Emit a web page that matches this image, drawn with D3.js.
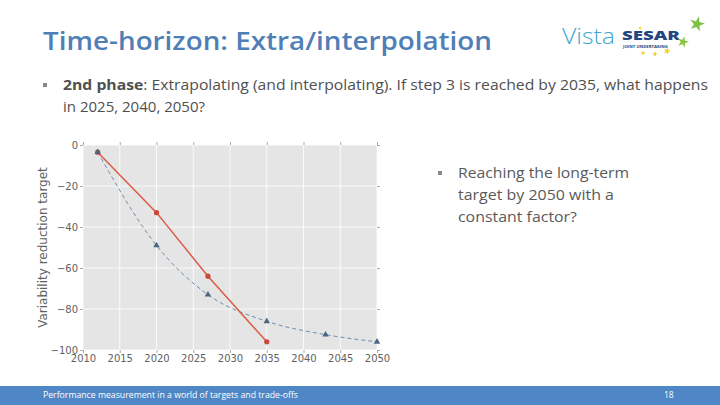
<!DOCTYPE html>
<html>
<head>
<meta charset="utf-8">
<script src="https://cdn.jsdelivr.net/npm/d3@7"></script>
<style>
  body { margin: 0; background: #fff; }
  svg { display: block; }
</style>
</head>
<body>
<div id="slide"></div>
<script>
// chart values
const xTicks = [2010, 2015, 2020, 2025, 2030, 2035, 2040, 2045, 2050];
const yTicks = [0, -20, -40, -60, -80, -100];
const linearYears = [2012, 2020, 2027, 2035];
const linearValues = [-3.5, -33, -64, -96];
const factorYears = [2012, 2020, 2027, 2035, 2043, 2050];
const factorValues = [-3.5, -49, -73, -86, -92.5, -96];

const width = 720;
const height = 405;

const svg = d3.select("#slide")
              .append("svg")
              .attr("width", width)
              .attr("height", height)
              .style("font-family", "'Open Sans', sans-serif");

// **Slide title
svg.append("text")
   .attr("x", 43)
   .attr("y", 50)
   .attr("font-size", 25)
   .attr("font-weight", 600)
   .attr("fill", "#4f7fb6")
   .attr("textLength", 449)
   .attr("lengthAdjust", "spacingAndGlyphs")
   .text("Time-horizon: Extra/interpolation");

// **Logo (rough)
svg.append("text")
   .attr("x", 562).attr("y", 44)
   .attr("font-size", 22)
   .attr("font-weight", 300)
   .attr("fill", "#3ea7cf")
   .attr("textLength", 53)
   .attr("lengthAdjust", "spacingAndGlyphs")
   .text("Vista");
svg.append("text")
   .attr("x", 622).attr("y", 40)
   .attr("font-size", 12.5)
   .attr("font-weight", 800)
   .attr("fill", "#24457f")
   .attr("textLength", 58)
   .attr("lengthAdjust", "spacingAndGlyphs")
   .text("SESAR");
svg.append("text")
   .attr("x", 623).attr("y", 48)
   .attr("font-size", 3.5)
   .attr("font-weight", 700)
   .attr("fill", "#24457f")
   .attr("textLength", 45)
   .attr("lengthAdjust", "spacingAndGlyphs")
   .text("JOINT UNDERTAKING");
const star = d3.symbol().type(d3.symbolStar);
[[697, 24, 70, "#7dc142"], [683, 42, 40, "#8cc63f"], [667, 51, 16, "#f2d21a"],
 [655, 54, 10, "#f2d21a"], [643, 53, 8, "#f2d21a"], [640, 28, 5, "#f2d21a"]]
  .forEach(s => {
    svg.append("path")
       .attr("d", star.size(s[2])())
       .attr("transform", `translate(${s[0]},${s[1]}) rotate(15)`)
       .attr("fill", s[3]);
  });

// **Bullet texts
const bulletColor = "#505050";
svg.append("rect").attr("x", 43).attr("y", 83).attr("width", 4).attr("height", 4).attr("fill", "#888");
const line1 = svg.append("text")
   .attr("x", 63).attr("y", 90)
   .attr("font-size", 15)
   .attr("fill", bulletColor)
   .attr("textLength", 645)
   .attr("lengthAdjust", "spacingAndGlyphs");
line1.append("tspan").attr("font-weight", 700).text("2nd phase");
line1.append("tspan").text(": Extrapolating (and interpolating). If step 3 is reached by 2035, what happens");
svg.append("text")
   .attr("x", 63).attr("y", 112)
   .attr("font-size", 15)
   .attr("fill", bulletColor)
   .attr("textLength", 142)
   .attr("lengthAdjust", "spacingAndGlyphs")
   .text("in 2025, 2040, 2050?");

svg.append("rect").attr("x", 438).attr("y", 171).attr("width", 4).attr("height", 4).attr("fill", "#888");
const sideLines = [["Reaching the long-term", 171], ["target by 2050 with a", 156], ["constant factor?", 119]];
sideLines.forEach((l, i) => {
  svg.append("text")
     .attr("x", 458).attr("y", 178 + i * 22)
     .attr("font-size", 15)
     .attr("fill", "#5a5a5a")
     .attr("textLength", l[1])
     .attr("lengthAdjust", "spacingAndGlyphs")
     .text(l[0]);
});

// **Chart
const plot = { left: 83, right: 377, top: 145, bottom: 350 };
const x = d3.scaleLinear().domain([2010, 2050]).range([plot.left, plot.right]);
const y = d3.scaleLinear().domain([-100, 0]).range([plot.bottom, plot.top]);

svg.append("rect")
   .attr("x", plot.left).attr("y", plot.top)
   .attr("width", plot.right - plot.left)
   .attr("height", plot.bottom - plot.top)
   .attr("fill", "#e5e5e5");

// grid lines
svg.append("g").selectAll("line").data(xTicks).enter().append("line")
   .attr("x1", d => x(d)).attr("x2", d => x(d))
   .attr("y1", plot.top).attr("y2", plot.bottom)
   .attr("stroke", "#fff").attr("stroke-width", 0.8);
svg.append("g").selectAll("line").data(yTicks).enter().append("line")
   .attr("x1", plot.left).attr("x2", plot.right)
   .attr("y1", d => y(d)).attr("y2", d => y(d))
   .attr("stroke", "#fff").attr("stroke-width", 0.8);

// axes
const styleAxis = g => {
  g.select(".domain").remove();
  g.selectAll(".tick line").attr("stroke", "#aaa");
  g.selectAll(".tick text").attr("fill", "#5f5f5f").attr("font-size", 10)
   .style("font-family", "'DejaVu Sans', sans-serif");
};
svg.append("g")
   .attr("transform", `translate(0, ${plot.bottom})`)
   .call(d3.axisBottom(x).tickValues(xTicks).tickFormat(d3.format("d")).tickSize(3).tickPadding(2))
   .call(styleAxis);
svg.append("g")
   .attr("transform", `translate(${plot.left}, 0)`)
   .call(d3.axisLeft(y).tickValues(yTicks).tickFormat(d => d3.format("d")(d).replace("-", "\u2212")).tickSize(3).tickPadding(2))
   .call(styleAxis);
svg.append("g")
   .attr("transform", `translate(0, ${plot.top})`)
   .call(d3.axisTop(x).tickValues(xTicks).tickFormat("").tickSize(3))
   .call(styleAxis);
svg.append("g")
   .attr("transform", `translate(${plot.right}, 0)`)
   .call(d3.axisRight(y).tickValues(yTicks).tickFormat("").tickSize(3))
   .call(styleAxis);

svg.append("text")
   .attr("transform", `translate(47, ${(plot.top + plot.bottom) / 2}) rotate(-90)`)
   .attr("text-anchor", "middle")
   .attr("font-size", 12)
   .attr("fill", "#5f5f5f")
   .style("font-family", "'DejaVu Sans', sans-serif")
   .text("Variability reduction target");

// constant-factor series (dashed blue)
const factorData = factorYears.map((yr, i) => [yr, factorValues[i]]);
svg.append("path")
   .datum(factorData)
   .attr("d", d3.line().x(d => x(d[0])).y(d => y(d[1])).curve(d3.curveMonotoneX))
   .attr("fill", "none")
   .attr("stroke", "#6d8fb0")
   .attr("stroke-width", 1)
   .attr("stroke-dasharray", "4,3");

// linear series (solid red)
const linearData = linearYears.map((yr, i) => [yr, linearValues[i]]);
svg.append("path")
   .datum(linearData)
   .attr("d", d3.line().x(d => x(d[0])).y(d => y(d[1])))
   .attr("fill", "none")
   .attr("stroke", "#dd5a45")
   .attr("stroke-width", 1.5);
svg.append("g").selectAll("circle").data(linearData).enter().append("circle")
   .attr("cx", d => x(d[0])).attr("cy", d => y(d[1]))
   .attr("r", 2.6)
   .attr("fill", "#c9473a");

const tri = d3.symbol().type(d3.symbolTriangle).size(18);
svg.append("g").selectAll("path").data(factorData).enter().append("path")
   .attr("d", tri)
   .attr("transform", d => `translate(${x(d[0])}, ${y(d[1])})`)
   .attr("fill", "#4b6580");

// **Footer
svg.append("rect")
   .attr("x", 0).attr("y", 386)
   .attr("width", width).attr("height", 19)
   .attr("fill", "#4f86c6");
svg.append("text")
   .attr("x", 43).attr("y", 398)
   .attr("font-size", 8.5)
   .attr("fill", "#fff")
   .attr("textLength", 255)
   .attr("lengthAdjust", "spacingAndGlyphs")
   .text("Performance measurement in a world of targets and trade-offs");
svg.append("text")
   .attr("x", 664).attr("y", 398)
   .attr("font-size", 8.5)
   .attr("fill", "#fff")
   .text("18");
</script>
</body>
</html>
